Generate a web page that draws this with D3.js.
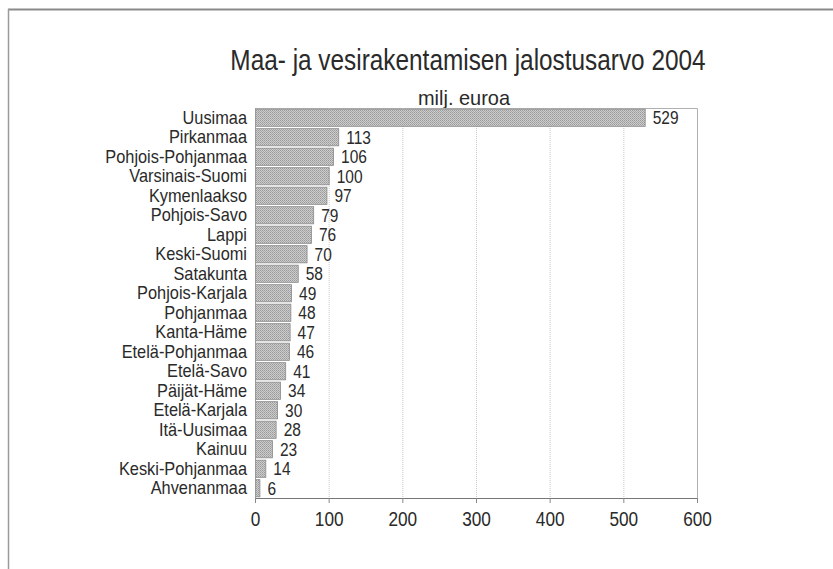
<!DOCTYPE html>
<html>
<head>
<meta charset="utf-8">
<script src="https://cdn.jsdelivr.net/npm/d3@7"></script>
<style>
  body { margin: 0; background: #fff; }
  text { font-family: "Liberation Sans", Arial, sans-serif; fill: #2a2a2a; }
</style>
</head>
<body>
<div id="chart"></div>
<script>
const regions = ['Uusimaa', 'Pirkanmaa', 'Pohjois-Pohjanmaa', 'Varsinais-Suomi', 'Kymenlaakso',
  'Pohjois-Savo', 'Lappi', 'Keski-Suomi', 'Satakunta', 'Pohjois-Karjala', 'Pohjanmaa',
  'Kanta-Häme', 'Etelä-Pohjanmaa', 'Etelä-Savo', 'Päijät-Häme', 'Etelä-Karjala',
  'Itä-Uusimaa', 'Kainuu', 'Keski-Pohjanmaa', 'Ahvenanmaa'];
const values = [529, 113, 106, 100, 97, 79, 76, 70, 58, 49, 48, 47, 46, 41, 34, 30, 28, 23, 14, 6];
const xTicks = [0, 100, 200, 300, 400, 500, 600];

const title = 'Maa- ja vesirakentamisen jalostusarvo 2004';
const subtitle = 'milj. euroa';

const W = 833, H = 569;
const PLOT = { LEFT: 255, RIGHT: 697, TOP: 108, BOTTOM: 498 };

const data = regions.map((r, i) => ({ region: r, value: values[i] }));

// squeeze text horizontally to mimic Arial Narrow
function narrow(sel, k) {
  sel.each(function() {
    const len = this.getComputedTextLength();
    d3.select(this)
      .attr('textLength', len * k)
      .attr('lengthAdjust', 'spacingAndGlyphs');
  });
}

const svg = d3.select('#chart').append('svg')
  .attr('width', W)
  .attr('height', H);

// dithered grey fill like the scanned original
const defs = svg.append('defs');
const pat = defs.append('pattern')
  .attr('id', 'dither')
  .attr('width', 2).attr('height', 2)
  .attr('patternUnits', 'userSpaceOnUse');
pat.append('rect').attr('width', 2).attr('height', 2).attr('fill', '#cdcdcd');
pat.append('rect').attr('width', 1).attr('height', 1).attr('fill', '#999');
pat.append('rect').attr('x', 1).attr('y', 1).attr('width', 1).attr('height', 1).attr('fill', '#a8a8a8');

// outer frame (top and left edge visible)
svg.append('line')
  .attr('x1', 8).attr('x2', W).attr('y1', 9.5).attr('y2', 9.5)
  .attr('stroke', '#8a8a8a').attr('stroke-width', 2);
svg.append('line')
  .attr('x1', 8.5).attr('x2', 8.5).attr('y1', 9).attr('y2', H)
  .attr('stroke', '#9a9a9a').attr('stroke-width', 1.5);

const x = d3.scaleLinear()
  .domain([0, 600])
  .range([PLOT.LEFT, PLOT.RIGHT]);

const y = d3.scaleBand()
  .domain(regions)
  .range([PLOT.TOP, PLOT.BOTTOM])
  .paddingInner(0.12)
  .paddingOuter(0.06);

// titles
svg.append('text')
  .attr('x', 468).attr('y', 70)
  .attr('text-anchor', 'middle')
  .style('font-size', '29px')
  .text(title)
  .call(narrow, 0.84);

svg.append('text')
  .attr('x', 464).attr('y', 105)
  .attr('text-anchor', 'middle')
  .style('font-size', '21px')
  .text(subtitle)
  .call(narrow, 0.95);

// plot frame: top and right
svg.append('path')
  .attr('d', `M${PLOT.LEFT},${PLOT.TOP + 0.5}H${PLOT.RIGHT + 0.5}V${PLOT.BOTTOM}`)
  .attr('fill', 'none')
  .attr('stroke', '#b0b0b0');

// gridlines
svg.append('g')
  .selectAll('line')
  .data(xTicks.filter(d => d > 0 && d < 600))
  .join('line')
    .attr('x1', d => x(d) + 0.5).attr('x2', d => x(d) + 0.5)
    .attr('y1', PLOT.TOP).attr('y2', PLOT.BOTTOM)
    .attr('stroke', '#c8c8c8')
    .attr('stroke-dasharray', '1,1');

// bars
svg.append('g')
  .selectAll('rect')
  .data(data)
  .join('rect')
    .attr('x', x(0) + 0.5)
    .attr('y', d => y(d.region))
    .attr('width', d => x(d.value) - x(0))
    .attr('height', y.bandwidth())
    .attr('fill', 'url(#dither)')
    .attr('stroke', '#8a8a8a')
    .attr('stroke-width', 0.8);

// value labels
svg.append('g')
  .selectAll('text')
  .data(data)
  .join('text')
    .attr('x', d => x(d.value) + 8)
    .attr('y', d => y(d.region) + y.bandwidth() / 2)
    .attr('dy', '0.36em')
    .style('font-size', '18px')
    .text(d => d.value)
    .call(narrow, 0.86);

// category axis
const yAxis = svg.append('g')
  .attr('transform', `translate(${PLOT.LEFT},0)`)
  .call(d3.axisLeft(y).tickSize(0).tickPadding(8));
yAxis.select('.domain').attr('stroke', '#9a9a9a');
yAxis.selectAll('text')
  .style('font-size', '19px')
  .style('font-family', '"Liberation Sans", Arial, sans-serif')
  .attr('fill', '#2a2a2a')
  .call(narrow, 0.86);

// value axis
const xAxis = svg.append('g')
  .attr('transform', `translate(0,${PLOT.BOTTOM})`)
  .call(d3.axisBottom(x).tickValues(xTicks).tickSize(5).tickPadding(9));
xAxis.select('.domain').attr('stroke', '#777').attr('d', `M${PLOT.LEFT},0.5H${PLOT.RIGHT}`);
xAxis.selectAll('.tick line').attr('stroke', '#888');
xAxis.selectAll('text')
  .style('font-size', '20px')
  .style('font-family', '"Liberation Sans", Arial, sans-serif')
  .attr('fill', '#2a2a2a')
  .call(narrow, 0.86);
</script>
</body>
</html>
